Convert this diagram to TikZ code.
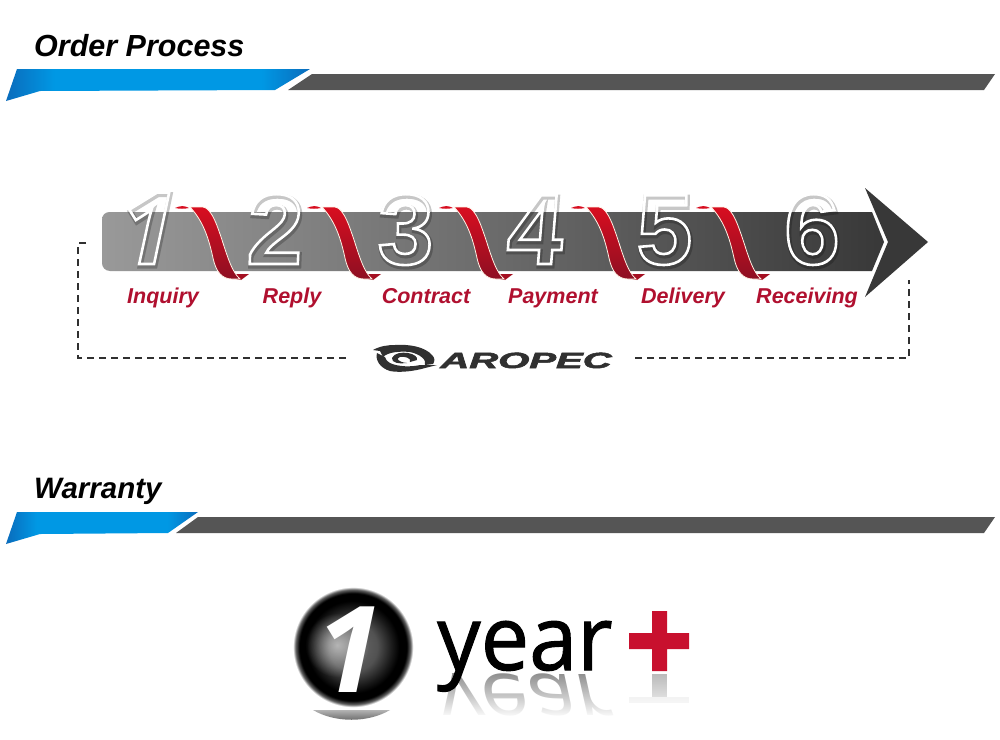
\documentclass[tikz,border=0pt]{standalone}
\usepackage{fontspec}
\setmainfont{Liberation Sans}
\newfontfamily\yearfont{Open Sans}
\newfontfamily\onefont{Open Sans}
\usetikzlibrary{fadings}
\definecolor{secgrey}{HTML}{555555}
\definecolor{crimson}{HTML}{B0102F}
\definecolor{ribtop}{HTML}{D80E20}
\definecolor{ribbot}{HTML}{8E0F22}
\definecolor{blueedge}{HTML}{0A6CBC}
\definecolor{bluemid}{HTML}{0098E4}
\definecolor{logoink}{HTML}{303030}
\definecolor{crossred}{HTML}{C8102E}
\newcommand{\strokedigit}[3]{\special{pdf:code q 1 Tr #1 w #2 #2 #2 RG}#3\special{pdf:code Q}}
\newcommand{\heavytext}[3]{\special{pdf:code q 2 Tr #1 w #2 #2 #2 RG}#3\special{pdf:code Q}}
\pgfdeclarehorizontalshading{secshade}{100bp}{%
  color(0bp)=(blueedge);color(25bp)=(blueedge);color(33bp)=(bluemid);
  color(67bp)=(bluemid);color(75bp)=(blueedge);color(100bp)=(blueedge)}
\pgfdeclareradialshading{ballshade}{\pgfpointorigin}{%
  color(0bp)=(black!58!white);
  color(10bp)=(black!68!white);
  color(16bp)=(black!90!white);
  color(19bp)=(black);
  color(22bp)=(black);
  color(23.6bp)=(black!60!white);
  color(24.6bp)=(white);
  color(50bp)=(white)}
\tikzfading[name=softspot,inner color=transparent!45,outer color=transparent!100]
\tikzset{
  secblue/.style={shading=secshade},
  secbar/.style={fill=secgrey},
  heading/.style={anchor=base west,inner sep=0pt,font=\bfseries\itshape},
  steplabel/.style={anchor=base,inner sep=0pt,text=crimson,font=\fontsize{21.5}{24}\selectfont\bfseries\itshape},
  numshadow/.style={anchor=base,inner sep=0pt,font=\fontsize{100}{100}\selectfont\bfseries,opacity=.22},
  numdigit/.style={anchor=base,inner sep=0pt,font=\fontsize{100}{100}\selectfont\bfseries},
  loopline/.style={draw=logoink,line width=1.1pt,dash pattern=on 7pt off 5pt},
  ribbonbody/.style={top color=ribtop,bottom color=ribbot,draw=white!90!orange,line width=.8pt},
  ribbontail/.style={fill=ribbot!70!ribtop},
  logomark/.style={fill=logoink},
  yearword/.style={anchor=base west,inner sep=0pt,font=\yearfont\fontsize{90}{90}\selectfont},
}
\begin{document}
\begin{tikzpicture}[x=1pt,y=-1pt]
\useasboundingbox (0,0) rectangle (1000,739);
\fill[white] (0,0) rectangle (1000,739);

% section headers
\node[heading,font=\fontsize{30.5}{32}\selectfont\bfseries\itshape] (order) at (34,56) {Order Process};
\shade[secblue] (17,69) -- (310,69) -- (275,90) -- (40,91) -- (6,101) -- cycle;
\path[secbar] (288,90) -- (312,74) -- (995,74) -- (984,90) -- cycle;
\node[heading,font=\fontsize{29.5}{32}\selectfont\bfseries\itshape] (warranty) at (34,498) {Warranty};
\shade[secblue] (17,512) -- (198,512) -- (168,533) -- (40,534) -- (6,544) -- cycle;
\path[secbar] (176,533) -- (198,517) -- (995,517) -- (984,533) -- cycle;

% arrow
\shade[left color=black!40,right color=black!78,middle color=black!58]
  (110,212) -- (872,212) -- (884,242) -- (872,271) -- (110,271)
  .. controls (105,271) and (102,267) .. (102,263) -- (102,220)
  .. controls (102,215) and (105,212) .. (110,212) -- cycle;
\fill[black!78] (865,188) -- (928,242) -- (865,297) -- (888,242) -- cycle;

% digits
\node[numshadow,text=black,font=\onefont\fontsize{100}{100}\selectfont\bfseries\itshape] (d1s) at (149,266) {\strokedigit{5}{0}{1}};
\node[numdigit,font=\onefont\fontsize{100}{100}\selectfont\bfseries\itshape] (d1) at (148,264) {\strokedigit{2.6}{1}{1}};
\foreach \nm/\dg/\px/\sl in {d2/2/274/.04,d3/3/405/.02,d4/4/533/.08,d5/5/664/.02,d6/6/812/0}{
  \node[numshadow,xslant=\sl,text=black] (\nm s) at (\px+1,266) {\strokedigit{5}{0}{\dg}};
  \node[numdigit,xslant=\sl] (\nm) at (\px,264) {\strokedigit{2.6}{1}{\dg}};
}

% ribbons
\foreach \rx in {0,132,264,396,521}{
  \begin{scope}[shift={(\rx,0)}]
    \fill[ribtop] (175,208) .. controls (180,205.5) and (185,205.5) .. (189,208) .. controls (184,209) and (180,209) .. (175,208) -- cycle;
    \fill[ribbontail] (236,274) -- (249,274) -- (241,280) -- (236,279) -- cycle;
    \path[ribbonbody] (190,207) -- (203,207)
       .. controls (212,208) and (218,228) .. (223,243)
       .. controls (228,258) and (232,272) .. (240,279)
       -- (232,279)
       .. controls (222,279) and (216,272) .. (213,258)
       .. controls (209,240) and (204,222) .. (190,207) -- cycle;
  \end{scope}
}

% step labels
\node[steplabel] (s1) at (163,303) {Inquiry};
\node[steplabel] (s2) at (292,303) {Reply};
\node[steplabel] (s3) at (426,303) {Contract};
\node[steplabel] (s4) at (553,303) {Payment};
\node[steplabel] (s5) at (683,303) {Delivery};
\node[steplabel] (s6) at (807,303) {Receiving};

% logo
\path[logomark] (373,350) .. controls (380,346) and (388,345) .. (395,345)
   .. controls (410,344) and (425,347) .. (432,355) .. controls (435,358) and (435,361) .. (433,364)
   -- (425,365) .. controls (427,360) and (420,354) .. (410,352)
   .. controls (400,351) and (388,352) .. (383,357) -- (380,351) -- cycle;
\path[logomark] (377,353) .. controls (375,360) and (380,368) .. (390,371)
   .. controls (400,373) and (415,371) .. (425,368) -- (437,365) -- (420,365)
   .. controls (412,367) and (398,367) .. (390,363) .. controls (387,361) and (385,359) .. (385,357) -- cycle;
\path[logomark] (392,358) .. controls (394,353) and (402,352) .. (408,353)
   .. controls (414,354) and (418,357) .. (417,360) -- (410,362)
   .. controls (412,358) and (404,356) .. (400,357)
   .. controls (396,358) and (397,362) .. (407,363) .. controls (400,364) and (391,363) .. (392,358) -- cycle;
\node[anchor=base west,inner sep=0pt,xscale=1.82,text=logoink,
      font=\fontsize{22}{24}\selectfont\bfseries\itshape] (logo) at (440,368) {\heavytext{.5}{.19}{AROPEC}};

% dashed return line
\coordinate (loopA) at (86,243);
\coordinate (loopB) at (350,358);
\coordinate (loopC) at (635,358);
\coordinate (loopD) at (909,280);
\draw[loopline] (loopA) -- (78,243) -- (78,358) -- (loopB);
\draw[loopline] (loopC) -- (909,358) -- (loopD);

% one year ball
\shade[top color=black!30,bottom color=black!65,draw=none]
  (313,710) .. controls (335,723) and (368,723) .. (390,710) -- cycle;
\fill[white] (300,705) rectangle (405,710);
\shade[shading=ballshade] (353,647) circle [radius=61];
\fill[white,path fading=softspot] (337,645) circle [radius=32];
\node[anchor=base,inner sep=0pt,text=white,font=\onefont\fontsize{120}{120}\selectfont\bfseries\itshape] (one) at (350,692) {1};

% reflection
\begin{scope}
  \clip (430,673) rectangle (700,716);
  \node[yearword,text=black!45,xscale=.94,yscale=-.85,xslant=.2] (yearshade) at (434,674) {year};
  \fill[black!28] (652,674) rectangle (667,697);
  \fill[black!10] (629,697) rectangle (689,703);
\end{scope}
\fill[white,path fading=north] (430,672) rectangle (700,718);

\node[yearword,xscale=.96] (year) at (437,670) {\heavytext{1}{0}{year}};
\fill[crossred] (652,611) rectangle (667,633) (629,633) rectangle (689,649) (652,649) rectangle (667,671);
\end{tikzpicture}
\end{document}
